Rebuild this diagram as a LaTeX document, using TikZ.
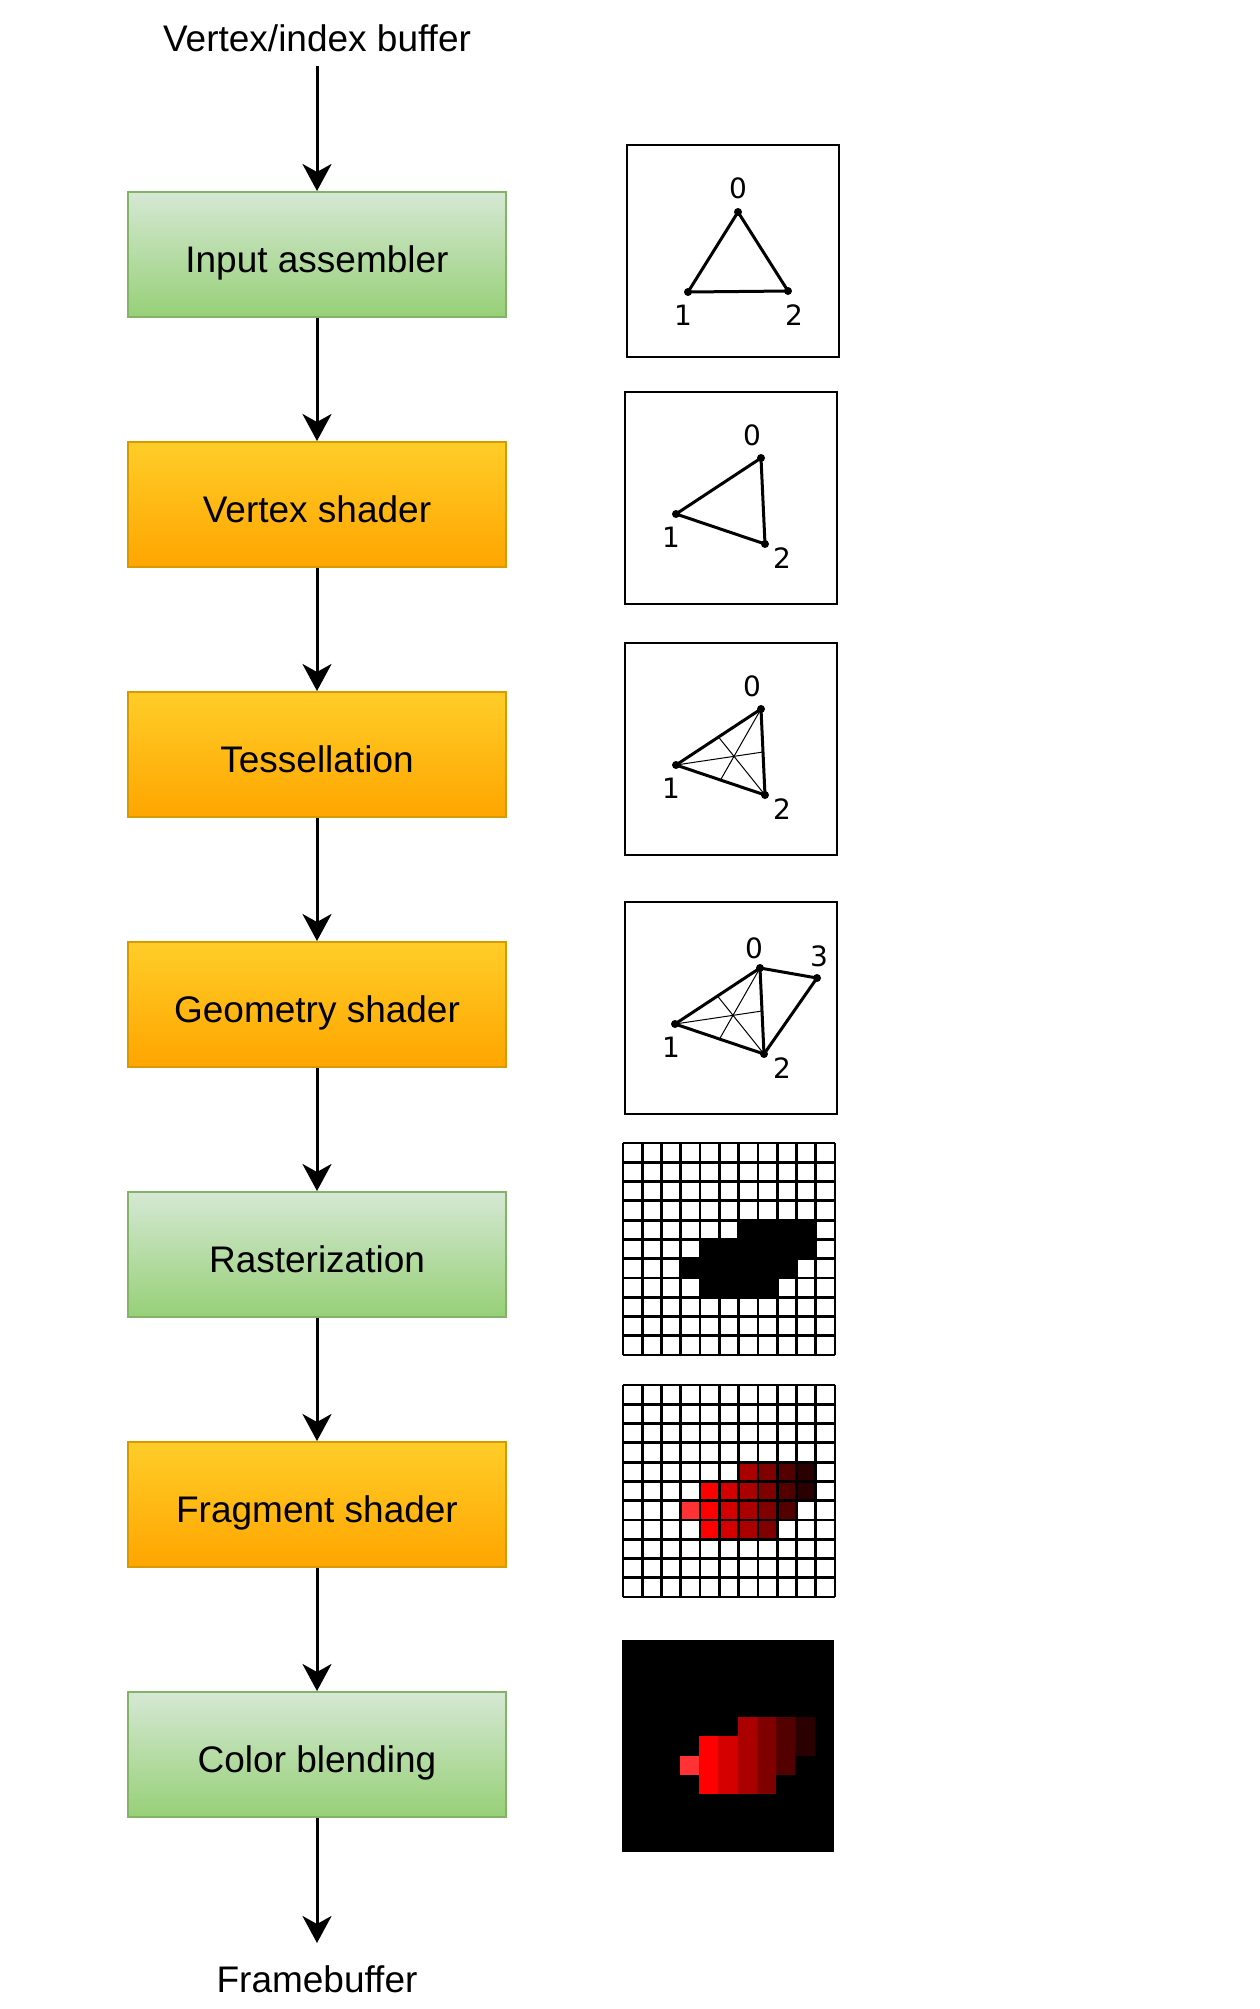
\documentclass[tikz,border=0pt]{standalone}
\usepackage{fontspec}
\setmainfont{Liberation Sans}
\newfontfamily\digitfont{DejaVu Sans}
\usepackage{tikz}
\usetikzlibrary{arrows.meta, positioning, calc}

\definecolor{greenTop}{HTML}{D5E8D4}
\definecolor{greenBot}{HTML}{97D077}
\definecolor{greenLine}{HTML}{82B366}
\definecolor{orangeTop}{HTML}{FFCD28}
\definecolor{orangeBot}{HTML}{FFA500}
\definecolor{orangeLine}{HTML}{D79B00}
% fragment colours, one per grid column
\definecolor{px3}{HTML}{FF3333}
\definecolor{px4}{HTML}{FF0000}
\definecolor{px5}{HTML}{D40000}
\definecolor{px6}{HTML}{AA0000}
\definecolor{px7}{HTML}{800000}
\definecolor{px8}{HTML}{550000}
\definecolor{px9}{HTML}{2B0000}

\newcommand{\stagefont}{\fontsize{18.5}{22}\selectfont}

\tikzset{
    stagegreen/.style={rectangle, minimum width=189pt, minimum height=62.5pt,
        text centered, text height=17.8pt, text depth=0pt, draw=greenLine,
        line width=1pt, top color=greenTop, bottom color=greenBot, font=\stagefont},
    stageorange/.style={rectangle, minimum width=189pt, minimum height=62.5pt,
        text centered, text height=17.8pt, text depth=0pt, draw=orangeLine,
        line width=1pt, top color=orangeTop, bottom color=orangeBot, font=\stagefont},
    endlabel/.style={font=\stagefont},
    flow/.style={-{Stealth[length=13.5pt, width=14.5pt, inset=4pt]}, line width=1.5pt},
    panelframe/.style={line width=1.2pt},
    tri/.style={line width=1.5pt, line join=round},
    median/.style={line width=0.5pt},
    vlabel/.style={font=\digitfont\fontsize{14}{16}\selectfont, inner sep=0pt},
    gridline/.style={line width=1.4pt},
}

\begin{document}
\begin{tikzpicture}[x=0.5pt, y=-0.5pt, node distance=61.5pt]
    \useasboundingbox (0,0) rectangle (1259,2009);

    % Pipeline stages
    \node[stagegreen] (ia) at (317,254.5) {Input assembler};
    \node[stageorange, below=of ia] (vs) {Vertex shader};
    \node[stageorange, below=of vs] (tess) {Tessellation};
    \node[stageorange, below=of tess] (gs) {Geometry shader};
    \node[stagegreen, below=of gs] (rast) {Rasterization};
    \node[stageorange, below=of rast] (fs) {Fragment shader};
    \node[stagegreen, below=of fs] (blend) {Color blending};

    \node[endlabel, inner ysep=6.9pt, above=62.5pt of ia] (src) {Vertex/index buffer};
    \node[endlabel, inner ysep=11.3pt, below=62.5pt of blend] (fb) {Framebuffer};

    \draw[flow] (src) -- (ia);
    \draw[flow] (ia) -- (vs);
    \draw[flow] (vs) -- (tess);
    \draw[flow] (tess) -- (gs);
    \draw[flow] (gs) -- (rast);
    \draw[flow] (rast) -- (fs);
    \draw[flow] (fs) -- (blend);
    \draw[flow] (blend) -- (fb);

    % Input assembler: raw vertices
    \begin{scope}[shift={(627,145)}]
        \draw[panelframe] (0,0) rectangle (212,212);
        \coordinate (a0) at (111,67);
        \coordinate (a1) at (61,147);
        \coordinate (a2) at (161,146);
        \draw[tri] (a0) -- (a1) -- (a2) -- cycle;
        \foreach \v in {a0,a1,a2} \fill (\v) circle (2pt);
        \node[vlabel] (la0) at (111,43) {0};
        \node[vlabel] (la1) at (56,170) {1};
        \node[vlabel] (la2) at (167,170) {2};
    \end{scope}

    % Vertex shader: transformed
    \begin{scope}[shift={(625,392)}]
        \draw[panelframe] (0,0) rectangle (212,212);
        \coordinate (b0) at (136,66);
        \coordinate (b1) at (51,122);
        \coordinate (b2) at (140,152);
        \draw[tri] (b0) -- (b1) -- (b2) -- cycle;
        \foreach \v in {b0,b1,b2} \fill (\v) circle (2pt);
        \node[vlabel] (lb0) at (127,43) {0};
        \node[vlabel] (lb1) at (46,145) {1};
        \node[vlabel] (lb2) at (157,166) {2};
    \end{scope}

    % Tessellation: subdivided
    \begin{scope}[shift={(625,643)}]
        \draw[panelframe] (0,0) rectangle (212,212);
        \coordinate (c0) at (136,66);
        \coordinate (c1) at (51,122);
        \coordinate (c2) at (140,152);
        \draw[median] (c0) -- ($(c1)!0.5!(c2)$);
        \draw[median] (c1) -- ($(c0)!0.5!(c2)$);
        \draw[median] (c2) -- ($(c0)!0.5!(c1)$);
        \draw[tri] (c0) -- (c1) -- (c2) -- cycle;
        \foreach \v in {c0,c1,c2} \fill (\v) circle (2pt);
        \node[vlabel] (lc0) at (127,43) {0};
        \node[vlabel] (lc1) at (46,145) {1};
        \node[vlabel] (lc2) at (157,166) {2};
    \end{scope}

    % Geometry shader: extra vertex
    \begin{scope}[shift={(625,902)}]
        \draw[panelframe] (0,0) rectangle (212,212);
        \coordinate (d0) at (135,66);
        \coordinate (d1) at (50,122);
        \coordinate (d2) at (139,152);
        \coordinate (d3) at (192,76);
        \draw[median] (d0) -- ($(d1)!0.5!(d2)$);
        \draw[median] (d1) -- ($(d0)!0.5!(d2)$);
        \draw[median] (d2) -- ($(d0)!0.5!(d1)$);
        \draw[tri] (d0) -- (d1) -- (d2) -- cycle;
        \draw[tri] (d0) -- (d3) -- (d2);
        \foreach \v in {d0,d1,d2,d3} \fill (\v) circle (2pt);
        \node[vlabel] (ld0) at (129,46) {0};
        \node[vlabel] (ld1) at (46,145) {1};
        \node[vlabel] (ld2) at (157,166) {2};
        \node[vlabel] (ld3) at (194,54) {3};
    \end{scope}

    % Rasterization: covered pixels
    \begin{scope}[shift={(623,1143)}]
        \foreach \r/\a/\b in {4/6/9, 5/4/9, 6/3/8, 7/4/7}
            \foreach \c in {\a,...,\b}
                \fill ({\c*19.2727},{\r*19.2727}) rectangle ++(19.2727,19.2727);
        \foreach \i in {0,...,11} {
            \draw[gridline] ({\i*19.2727},0) -- ({\i*19.2727},212);
            \draw[gridline] (0,{\i*19.2727}) -- (212,{\i*19.2727});
        }
    \end{scope}

    % Fragment shader: shaded pixels
    \begin{scope}[shift={(623,1385)}]
        \foreach \r/\a/\b in {4/6/9, 5/4/9, 6/3/8, 7/4/7}
            \foreach \c in {\a,...,\b}
                \fill[px\c] ({\c*19.2727},{\r*19.2727}) rectangle ++(19.2727,19.2727);
        \foreach \i in {0,...,11} {
            \draw[gridline] ({\i*19.2727},0) -- ({\i*19.2727},212);
            \draw[gridline] (0,{\i*19.2727}) -- (212,{\i*19.2727});
        }
    \end{scope}

    % Color blending: final image
    \begin{scope}[shift={(622,1640)}]
        \fill[black] (0,0) rectangle (212,212);
        \foreach \r/\a/\b in {4/6/9, 5/4/9, 6/3/8, 7/4/7}
            \foreach \c in {\a,...,\b}
                \fill[px\c] ({\c*19.2727},{\r*19.2727}) rectangle ++(19.2727,19.2727);
    \end{scope}
\end{tikzpicture}
\end{document}
